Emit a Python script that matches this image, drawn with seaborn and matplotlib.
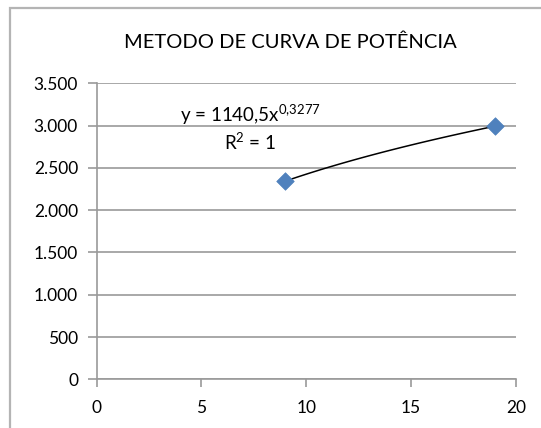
import numpy as np
import pandas as pd
import matplotlib
matplotlib.use("Agg")
import matplotlib.pyplot as plt
import seaborn as sns
from matplotlib.patches import Rectangle

# Measured points
x_vals = [9, 19]
y_vals = [2343, 2993]

# Power trendline coefficients: y = a * x^b
coef_a = 1140.5
coef_b = 0.3277

x_ticks = [0, 5, 10, 15, 20]
y_ticks = [0, 500, 1000, 1500, 2000, 2500, 3000, 3500]
y_tick_labels = ["0", "500", "1.000", "1.500", "2.000", "2.500", "3.000", "3.500"]

title = "METODO DE CURVA DE POTÊNCIA"
eq_text = r"y = 1140,5x$^{0{,}3277}$"
r2_text = r"R$^{2}$ = 1"

sns.set_theme(style="white")
plt.rcParams["font.family"] = ["Lato", "DejaVu Sans"]
plt.rcParams["mathtext.fontset"] = "custom"
plt.rcParams["mathtext.rm"] = "Lato"
plt.rcParams["mathtext.it"] = "Lato"

W, H = 541, 428
fig = plt.figure(figsize=(W / 100, H / 100), dpi=100)
fig.patch.set_facecolor("white")

# chart frame
fig.add_artist(Rectangle((9.5 / W, -0.05), 1.2, 1 - 8.3 / H + 0.05,
                         transform=fig.transFigure, fill=False,
                         edgecolor="#b4b4b4", linewidth=1.6))

x0, x1 = 96.5, 516.0
y_top, y_bot = 83.3, 379.3
ax = fig.add_axes([x0 / W, 1 - y_bot / H, (x1 - x0) / W, (y_bot - y_top) / H])

df = pd.DataFrame({"x": x_vals, "y": y_vals})
xs = np.linspace(min(x_vals), max(x_vals), 60)
trend = pd.DataFrame({"x": xs, "y": coef_a * xs ** coef_b})

sns.lineplot(data=trend, x="x", y="y", ax=ax, color="black", linewidth=1.1, zorder=3)
sns.scatterplot(data=df, x="x", y="y", ax=ax, marker="D", s=80, color="#4F81BD",
                edgecolor="#4F81BD", linewidth=0.5, zorder=4, clip_on=False)

ax.set_xlim(0, 20)
ax.set_ylim(0, 3500)
ax.set_xticks(x_ticks)
ax.set_xticklabels([str(t) for t in x_ticks])
ax.set_yticks(y_ticks)
ax.set_yticklabels(y_tick_labels)
ax.set_xlabel("")
ax.set_ylabel("")

grid_col = "#9a9a9a"
ax.yaxis.grid(True, color=grid_col, linewidth=1.2)
ax.xaxis.grid(False)
for side in ["top", "right"]:
    ax.spines[side].set_visible(False)
for side in ["left", "bottom"]:
    ax.spines[side].set_color(grid_col)
    ax.spines[side].set_linewidth(1.2)

ax.tick_params(axis="y", length=6.8, width=1.2, color=grid_col, labelsize=12.5,
               labelcolor="black", direction="out", pad=6.5, left=True)
ax.tick_params(axis="x", length=5.8, width=1.2, color=grid_col, labelsize=12.5,
               labelcolor="black", direction="out", pad=9, bottom=True)

fig.text(290 / W, 1 - 42 / H, title, ha="center", va="center", fontsize=14.5, color="black")

# trendline label
ax.text(7.36, 3125, eq_text, ha="center", va="center", fontsize=13.5, color="black", zorder=5)
ax.text(7.3, 2806, r2_text, ha="center", va="center", fontsize=13.5, color="black", zorder=5)

fig.savefig("out.png", dpi=100, facecolor="white")
